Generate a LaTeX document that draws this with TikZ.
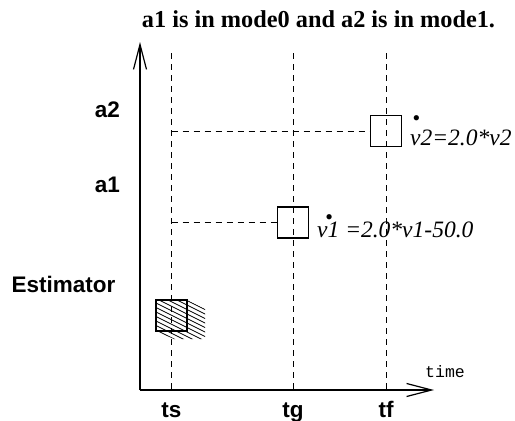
\documentclass[tikz,border=0pt]{standalone}
\usepackage{fontspec}
\setmainfont{Liberation Serif}
\setsansfont{Liberation Sans}
\setmonofont{Liberation Mono}
\usetikzlibrary{arrows.meta}
\newcommand{\dotv}[2]{\leavevmode\rlap{\hspace{#1}\raisebox{#2}{\fontsize{22pt}{22pt}\selectfont\textbullet}}v}

\begin{document}
\begin{tikzpicture}[x=1pt, y=-1pt,
  axis/.style={line width=1.4pt, -{Straight Barb[length=25pt,width=13pt,line width=1.2pt]}},
  guide/.style={line width=0.8pt, dash pattern=on 6pt off 5pt},
  modebox/.style={draw, line width=1.6pt, minimum width=31pt, minimum height=31pt, inner sep=0pt},
  lbl/.style={font=\fontsize{22.5pt}{26pt}\selectfont\sffamily\bfseries, inner sep=0pt, anchor=base},
  eqn/.style={font=\fontsize{23.5pt}{27pt}\selectfont\itshape, inner sep=0pt, anchor=base west}]
  \useasboundingbox (0,0) rectangle (515,421);

  \node[font=\fontsize{24.3pt}{28pt}\selectfont\bfseries, anchor=base, inner sep=0pt] (title) at (318.5,27) {a1 is in mode0 and a2 is in mode1.};

  % axes
  \coordinate (o) at (140,390);
  \coordinate (ytip) at (140,42);
  \coordinate (xtip) at (434,390);
  \draw[axis] (o) -- (ytip);
  \draw[axis] (o) -- (xtip);
  \node[font=\fontsize{16.5pt}{18pt}\selectfont\ttfamily, inner sep=0pt, anchor=base west] (time) at (425,377) {time};

  % time instants
  \coordinate (ts) at (171.5,53);
  \coordinate (tg) at (293,53);
  \coordinate (tf) at (386,53);
  \foreach \t in {ts,tg,tf}
    \draw[guide] (\t) -- (\t |- o);
  \node[lbl] (tslbl) at (171.5,417) {ts};
  \node[lbl] (tglbl) at (293,417) {tg};
  \node[lbl] (tflbl) at (386,417) {tf};

  % rows
  \node[lbl] (a2lbl) at (107.5,117) {a2};
  \node[lbl] (a1lbl) at (107.5,192) {a1};
  \node[lbl] (estlbl) at (63.5,292) {Estimator};

  \node[modebox] (a2box) at (386,131) {};
  \node[modebox] (a1box) at (293,222.5) {};
  \node[modebox] (estbox) at (171.5,315.5) {};
  \draw[guide] (ts |- a2box) -- (a2box.west);
  \draw[guide] (ts |- a1box) -- (a1box.west);

  % hatching of the estimator
  \begin{scope}
    \clip (156,300) -- (187,300) -- (205,309) -- (205,339) -- (174,339) -- (156,331) -- cycle;
    \foreach \k in {0,...,14}
      \draw[line width=0.8pt] (150,282+4.5*\k) -- ++(60,30);
  \end{scope}

  \node[eqn] (a2eq) at (410,145) {\dotv{0.09em}{0.85em}2=2.0*v2};
  \node[eqn] (a1eq) at (317,237) {\dotv{0.34em}{0.55em}1 =2.0*v1-50.0};
\end{tikzpicture}
\end{document}
